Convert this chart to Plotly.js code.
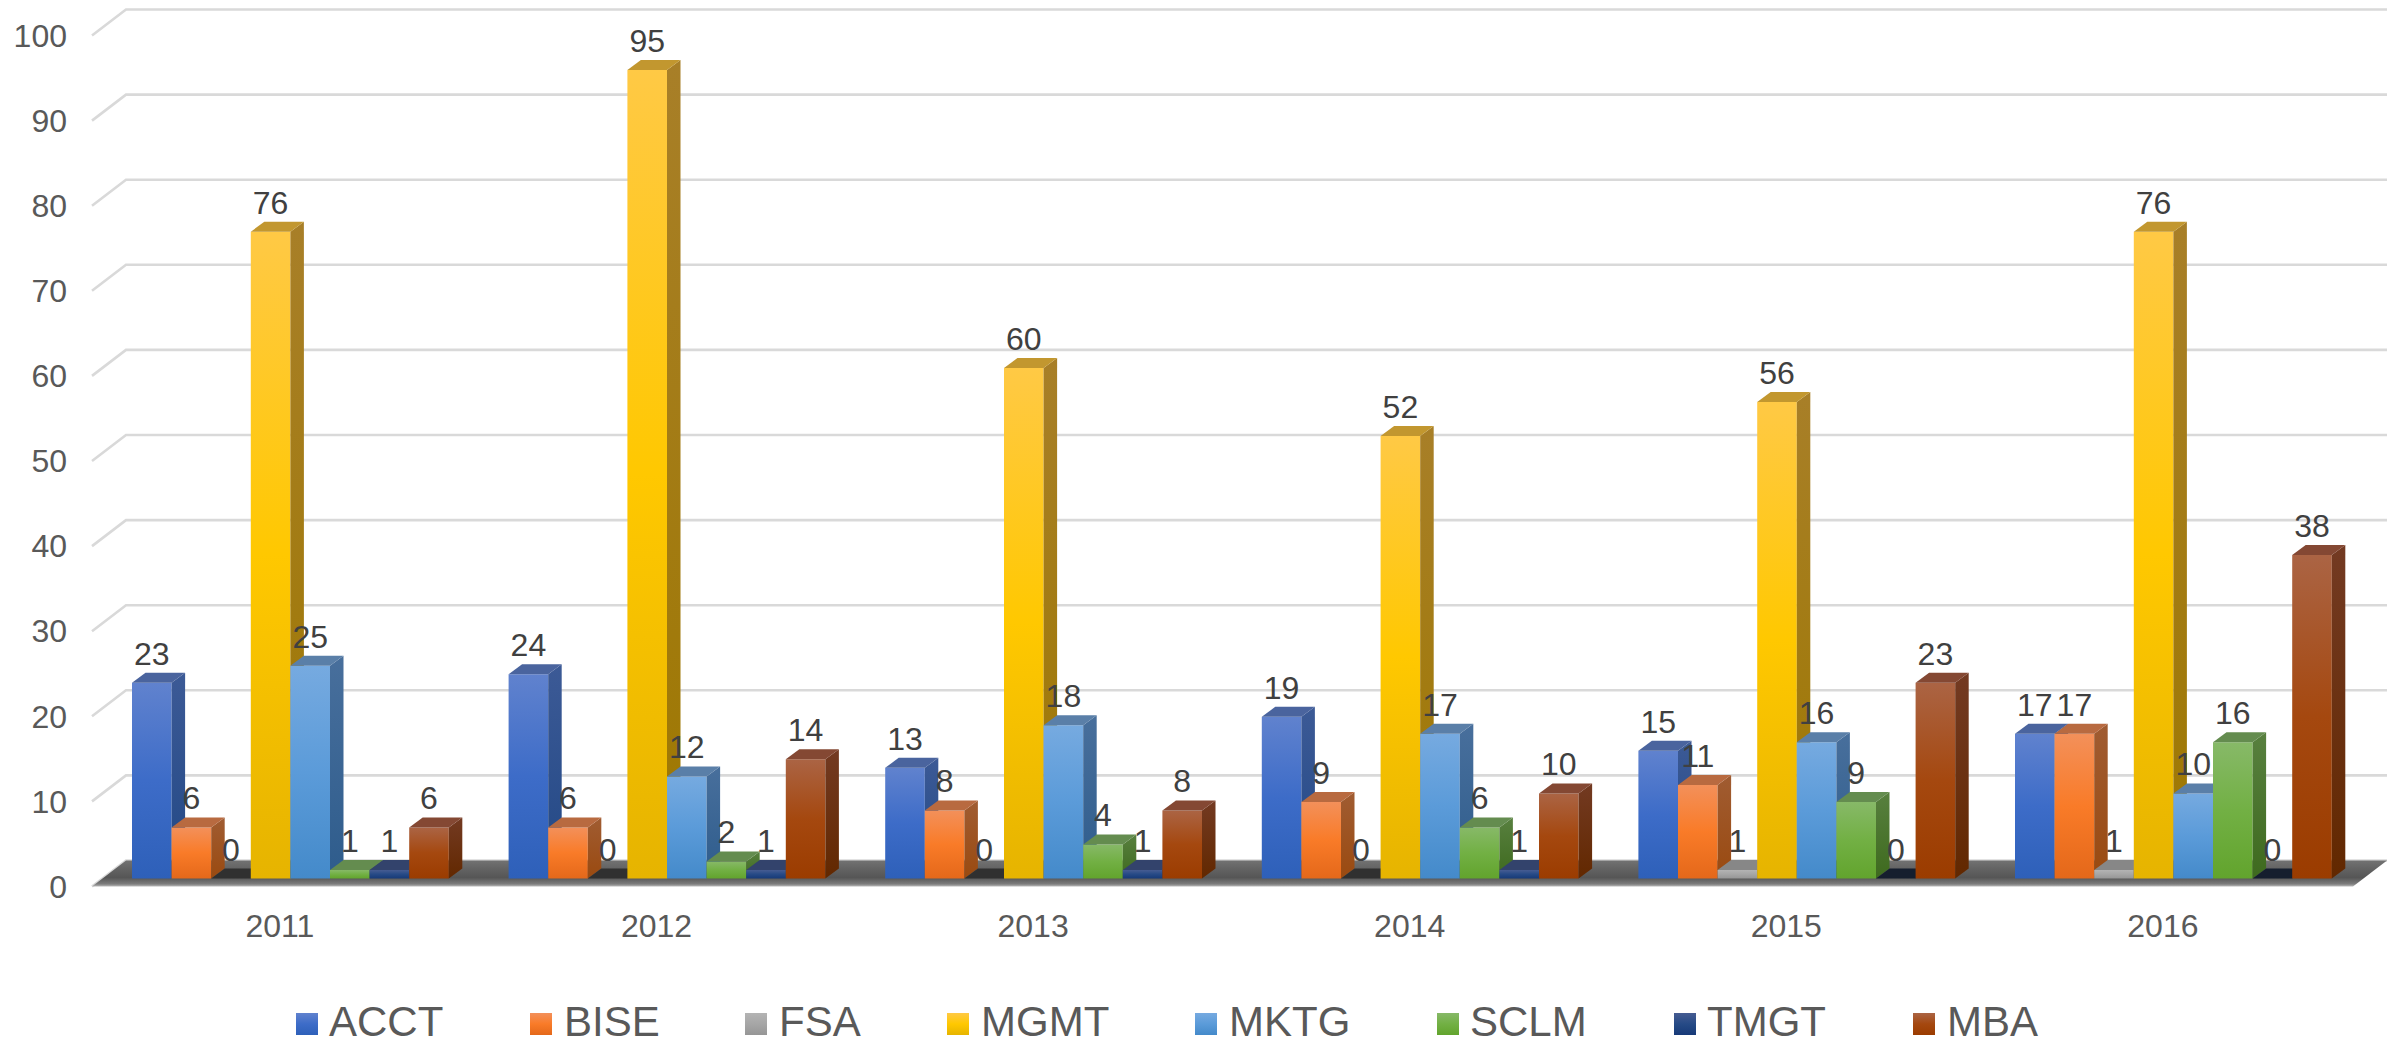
<!DOCTYPE html>
<html>
<head>
<meta charset="utf-8">
<script src="https://cdn.plot.ly/plotly-3.0.1.min.js"></script>
<style>html,body{margin:0;padding:0;background:#fff}#chart{width:2397px;height:1045px}</style>
</head>
<body>
<div id="chart"></div>
<script>
// Enrolment counts by programme and year
const years = ['2011', '2012', '2013', '2014', '2015', '2016'];
const programmes = ['ACCT', 'BISE', 'FSA', 'MGMT', 'MKTG', 'SCLM', 'TMGT', 'MBA'];
const ACCT = [23, 24, 13, 19, 15, 17];
const BISE = [6, 6, 8, 9, 11, 17];
const FSA = [0, 0, 0, 0, 1, 1];
const MGMT = [76, 95, 60, 52, 56, 76];
const MKTG = [25, 12, 18, 17, 16, 10];
const SCLM = [1, 2, 4, 6, 9, 16];
const TMGT = [1, 1, 1, 1, 0, 0];
const MBA = [6, 14, 8, 10, 23, 38];
const seriesValues = [ACCT, BISE, FSA, MGMT, MKTG, SCLM, TMGT, MBA];
const yTicks = [0, 10, 20, 30, 40, 50, 60, 70, 80, 90, 100];

// Face colours per programme
const frontStops = [
  ['#6082ce', '#3d6cc8', '#2e60b9'], ['#f3905a', '#f97b28', '#e4681a'],
  ['#b4b4b4', '#a6a6a6', '#969696'], ['#ffc945', '#ffc800', '#e6b400'],
  ['#76aae0', '#5b9bd9', '#448aca'], ['#87b968', '#72b044', '#62a42d'],
  ['#465c92', '#264a86', '#173a78'], ['#ab6444', '#a5480f', '#9b3c00']
];
const sideStops = [
  ['#3c5a96', '#224885'], ['#a05c32', '#9a4a10'], ['#8a8a8a', '#707070'], ['#a87f28', '#9e7800'],
  ['#486f9c', '#2e5c8c'], ['#58803f', '#3e6a1e'], ['#2e4168', '#14284e'], ['#733a22', '#622800']
];
const topColor = ['#4a649e', '#b86a40', '#878787', '#c2972f', '#5a7fa8', '#648c4f', '#33436c', '#844833'];
const zeroTopColor = ['#222', '#222', '#303030', '#222', '#222', '#222', '#151e2e', '#222'];
const floorScale = [[0, '#b8b8b8'], [0.1, '#7c7c7c'], [0.34, '#565656'], [0.7, '#646464'], [1, '#727272']];

// Pixel frame of the plot and the scale that turns it into axis units
const W = 2397, H = 1045;
const plotLeft = 68, plotBottom = 904;
const pxPerBar = 39.6, pxPerUnit = 8.51;
const firstBarPx = 132, floorBasePx = 886.5;
const xFromPx = px => (px - firstBarPx) / pxPerBar;
const xRange = [xFromPx(plotLeft), xFromPx(W)];
const yRange = [(floorBasePx - plotBottom) / pxPerUnit, floorBasePx / pxPerUnit];

// Oblique projection offsets, in axis units
const groupStep = 376.6 / pxPerBar;
const barLift = 8 / pxPerUnit;
const barDepthX = 13.5 / pxPerBar, barDepthY = 10 / pxPerUnit;
const wallDepthX = 34 / pxPerBar, wallDepthY = 26 / pxPerUnit;
const floorLeft = xFromPx(92), floorRight = xFromPx(2353);
const labelGap = 26 / pxPerUnit;
const tickShift = -10.5 / pxPerBar;

const traces = [];
const poly = {type: 'scatter', mode: 'lines', fill: 'toself', line: {width: 0}, hoverinfo: 'skip', showlegend: false};

// Back wall gridlines with their slanted run across the side wall
yTicks.forEach(t => {
  traces.push({
    type: 'scatter', mode: 'lines', hoverinfo: 'skip', showlegend: false,
    x: [floorLeft, floorLeft + wallDepthX, floorRight + wallDepthX],
    y: [t, t + wallDepthY, t + wallDepthY],
    line: {color: '#d9d9d9', width: 2.6}
  });
});

// Chart floor
traces.push(Object.assign({}, poly, {
  x: [floorLeft, floorRight, floorRight + wallDepthX, floorLeft + wallDepthX, floorLeft],
  y: [0, 0, wallDepthY, wallDepthY, 0],
  fillgradient: {type: 'vertical', colorscale: floorScale}
}));

// Each programme gets its own overlaid subplot so later bars paint over earlier side faces
seriesValues.forEach((values, s) => {
  const n = s + 2;
  const xa = 'x' + n, ya = 'y' + n;
  const centers = values.map((_, g) => g * groupStep + s + 0.5);
  traces.push({
    type: 'bar', name: programmes[s], xaxis: xa, yaxis: ya,
    x: centers, y: values, base: barLift, width: 1,
    marker: {color: frontStops[s][1], line: {width: 0}},
    hovertemplate: programmes[s] + ' %{y}<extra></extra>', showlegend: false
  });
  values.forEach((v, g) => {
    const l = centers[g] - 0.5, r = centers[g] + 0.5;
    const b = barLift, t = barLift + v;
    if (v > 0) {
      traces.push(Object.assign({}, poly, {
        xaxis: xa, yaxis: ya,
        x: [r, r + barDepthX, r + barDepthX, r, r],
        y: [b, b + barDepthY, t + barDepthY, t, b],
        fillgradient: {type: 'vertical', colorscale: [[0, sideStops[s][1]], [1, sideStops[s][0]]]}
      }));
    }
    traces.push(Object.assign({}, poly, {
      xaxis: xa, yaxis: ya,
      x: [l, r, r + barDepthX, l + barDepthX, l],
      y: [t, t, t + barDepthY, t + barDepthY, t],
      fillcolor: v === 0 ? zeroTopColor[s] : topColor[s]
    }));
  });
});

// Value labels sit above every bar face
const labelAxis = seriesValues.length + 2;
seriesValues.forEach((values, s) => {
  traces.push({
    type: 'scatter', mode: 'text', hoverinfo: 'skip', showlegend: false,
    xaxis: 'x' + labelAxis, yaxis: 'y' + labelAxis,
    x: values.map((_, g) => g * groupStep + s + 0.5),
    y: values.map(v => v + barLift + labelGap),
    text: values.map(String), textposition: 'middle center',
    textfont: {family: 'Liberation Sans', size: 32, color: '#404040'}
  });
});

// Legend row, laid out in pixels
const legendSwatchX = [296, 530, 745, 947, 1195, 1437, 1674, 1913];
const legendTextX = [327, 562, 777, 979, 1227, 1468, 1705, 1945];
const legendTextY = 1021, legendSwatchY = 1024, legendSwatch = 22;
const paperX = px => (px - plotLeft) / (W - plotLeft);
const paperY = py => (plotBottom - py) / plotBottom;
const shapes = programmes.map((_, i) => ({
  type: 'rect', xref: 'paper', yref: 'paper', layer: 'above', line: {width: 0},
  x0: paperX(legendSwatchX[i]), x1: paperX(legendSwatchX[i] + legendSwatch),
  y0: paperY(legendSwatchY - legendSwatch / 2), y1: paperY(legendSwatchY + legendSwatch / 2),
  fillcolor: frontStops[i][1]
}));
const annotations = programmes.map((name, i) => ({
  text: name, xref: 'paper', yref: 'paper', showarrow: false,
  x: paperX(legendTextX[i]), y: paperY(legendTextY), xanchor: 'left', yanchor: 'middle',
  font: {family: 'Liberation Sans', size: 42, color: '#595959'}
}));

const layout = {
  width: W, height: H,
  margin: {l: plotLeft, r: 0, t: 0, b: H - plotBottom, pad: 0},
  paper_bgcolor: '#fff', plot_bgcolor: '#fff',
  barmode: 'overlay', showlegend: false, shapes, annotations,
  font: {family: 'Liberation Sans'},
  xaxis: {
    range: xRange, fixedrange: true, showgrid: false, zeroline: false, showline: false, ticks: '',
    tickmode: 'array', tickvals: years.map((_, g) => g * groupStep + 4 + tickShift), ticktext: years,
    tickfont: {family: 'Liberation Sans', size: 32, color: '#595959'}
  },
  yaxis: {
    range: yRange, fixedrange: true, showgrid: false, zeroline: false, showline: false, ticks: '',
    tickmode: 'array', tickvals: yTicks, ticktext: yTicks.map(String),
    tickfont: {family: 'Liberation Sans', size: 32, color: '#595959'}
  }
};
for (let n = 2; n <= labelAxis; n++) {
  layout['xaxis' + n] = {overlaying: 'x', range: xRange, visible: false, fixedrange: true};
  layout['yaxis' + n] = {overlaying: 'y', range: yRange, visible: false, fixedrange: true};
}

// Bars and legend swatches take a vertical gradient added to the SVG after drawing
function addGradient(defs, id, stops) {
  const ns = 'http://www.w3.org/2000/svg';
  const g = document.createElementNS(ns, 'linearGradient');
  g.setAttribute('id', id);
  g.setAttribute('x1', '0'); g.setAttribute('y1', '0');
  g.setAttribute('x2', '0'); g.setAttribute('y2', '1');
  stops.forEach((c, i) => {
    const st = document.createElementNS(ns, 'stop');
    st.setAttribute('offset', i / (stops.length - 1));
    st.setAttribute('stop-color', c);
    g.appendChild(st);
  });
  defs.appendChild(g);
}

const gd = document.getElementById('chart');
Plotly.newPlot(gd, traces, layout, {displayModeBar: false, staticPlot: true}).then(() => {
  const defs = gd.querySelector('.main-svg defs');
  frontStops.forEach((stops, i) => addGradient(defs, 'front-' + i, stops));
  gd.querySelectorAll('.barlayer .trace.bars').forEach((el, i) => {
    el.querySelectorAll('path').forEach(p => { p.style.fill = 'url(#front-' + i + ')'; });
  });
  gd.querySelectorAll('.shapelayer path').forEach((p, i) => {
    p.style.fill = 'url(#front-' + i + ')';
  });
});
</script>
</body>
</html>
